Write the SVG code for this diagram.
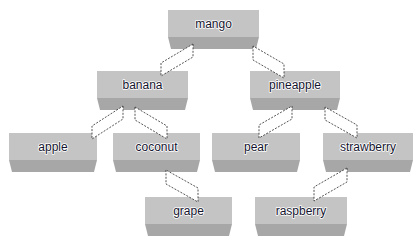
<svg xmlns="http://www.w3.org/2000/svg" width="417" height="250" viewBox="0 0 417 250">
  <style>
    .face { fill: #c4c4c4; }
    .band { fill: #a7a7a7; }
    .label { font-family: "Liberation Sans", Arial, sans-serif; font-size: 12px; fill: #14142e; text-anchor: middle; stroke: #ffffff; stroke-width: 1.6; paint-order: stroke; stroke-linejoin: round; }
    .ribbon { fill: #ffffff; stroke: #2a2a2a; stroke-width: 0.8; stroke-dasharray: 2 1.4; }
  </style>
  <rect width="417" height="250" fill="#ffffff"/>

  <!-- nodes: light top face with a darker bevelled band underneath -->
  <g id="mango">
    <rect class="face" x="168" y="10" width="91" height="27"/>
    <polygon class="band" points="168,37 259,37 256,49 171,49"/>
    <text class="label" x="213.5" y="28">mango</text>
  </g>
  <g id="banana">
    <rect class="face" x="97" y="71" width="91" height="27"/>
    <polygon class="band" points="97,98 188,98 185,110 100,110"/>
    <text class="label" x="142.5" y="89">banana</text>
  </g>
  <g id="pineapple">
    <rect class="face" x="250" y="71" width="90" height="27"/>
    <polygon class="band" points="250,98 340,98 337,110 253,110"/>
    <text class="label" x="295" y="89">pineapple</text>
  </g>
  <g id="apple">
    <rect class="face" x="9" y="133" width="88" height="27"/>
    <polygon class="band" points="9,160 97,160 94,172 12,172"/>
    <text class="label" x="53" y="151">apple</text>
  </g>
  <g id="coconut">
    <rect class="face" x="113" y="133" width="87" height="27"/>
    <polygon class="band" points="113,160 200,160 197,172 116,172"/>
    <text class="label" x="156.5" y="151">coconut</text>
  </g>
  <g id="pear">
    <rect class="face" x="212" y="133" width="88" height="27"/>
    <polygon class="band" points="212,160 300,160 297,172 215,172"/>
    <text class="label" x="256" y="151">pear</text>
  </g>
  <g id="strawberry">
    <rect class="face" x="323" y="133" width="90" height="27"/>
    <polygon class="band" points="323,160 413,160 410,172 326,172"/>
    <text class="label" x="368" y="151">strawberry</text>
  </g>
  <g id="grape">
    <rect class="face" x="145" y="197" width="87" height="27"/>
    <polygon class="band" points="145,224 232,224 229,236 148,236"/>
    <text class="label" x="188.5" y="215">grape</text>
  </g>
  <g id="raspberry">
    <rect class="face" x="255" y="197" width="92" height="27"/>
    <polygon class="band" points="255,224 347,224 344,236 258,236"/>
    <text class="label" x="301" y="215">raspberry</text>
  </g>

  <!-- connectors: flat ribbons from parent band down onto child face -->
  <g id="connectors">
    <polygon class="ribbon" points="193,44 193,57 161,76 161,63"/>
    <polygon class="ribbon" points="253,46 253,60 284,78 284,64"/>
    <polygon class="ribbon" points="123,106 123,119 92,139 92,126"/>
    <polygon class="ribbon" points="135,107 135,120 167,139 167,126"/>
    <polygon class="ribbon" points="292,106 292,119 259,138 259,125"/>
    <polygon class="ribbon" points="325,107 325,120 357,138 357,125"/>
    <polygon class="ribbon" points="166,170 166,184 198,202 198,188"/>
    <polygon class="ribbon" points="347,168 347,182 314,201 314,187"/>
  </g>
</svg>
